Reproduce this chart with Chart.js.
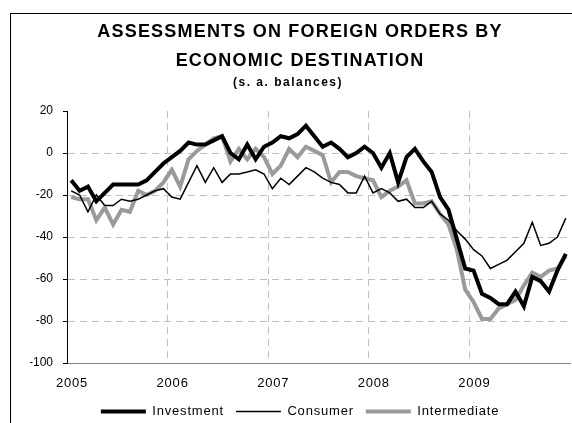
<!DOCTYPE html>
<html>
<head>
<meta charset="utf-8">
<script src="https://cdn.jsdelivr.net/npm/chart.js@4.4.1/dist/chart.umd.min.js"></script>
<style>
  html, body { margin: 0; padding: 0; background: #fff; overflow: hidden; }
  #frame { position: absolute; left: 10px; top: 13px; width: 640px; height: 480px; border: 1px solid #000; }
  #wrap { position: absolute; left: 0; top: 0; width: 600px; height: 423px; }
</style>
</head>
<body>
<div id="frame"></div>
<div id="wrap"><canvas id="chart" width="600" height="423"></canvas></div>
<script>
const FONT = "'Liberation Sans', Arial, sans-serif";

// monthly balances, Jan 2005 .. Dec 2009
const investment = [
  -13, -18, -16, -23, -19, -15, -15, -15, -15, -13, -9, -5,
  -2, 1, 5, 4, 4, 6, 8, 0, -3, 4, -3, 3,
  5, 8, 7, 9, 13, 8, 3, 5, 2, -2, 0, 3,
  0, -7, 0, -14, -2, 2, -4, -9, -21, -27, -41, -55,
  -56, -67, -69, -72, -72, -66, -73, -59, -61, -66, -56, -48
];
const consumer = [
  -18, -20, -28, -20, -25, -25, -22, -23, -22, -20, -18, -17,
  -21, -22, -14, -6, -14, -7, -14, -10, -10, -9, -8, -10,
  -17, -12, -15, -11, -7, -9, -12, -14, -15, -19, -19, -11,
  -19, -17, -19, -23, -22, -26, -26, -23, -29, -32, -37, -41,
  -46, -49, -55, -53, -51, -47, -43, -33, -44, -43, -40, -31
];
const intermediate = [
  -21, -22, -22, -32, -26, -34, -27, -28, -18, -20, -18, -14,
  -8, -16, -3, 1, 4, 7, 8, -4, 2, -3, 2, -2,
  -10, -6, 2, -2, 3, 1, -1, -14, -9, -9, -11, -12,
  -13, -21, -18, -16, -13, -24, -24, -23, -29, -34, -46, -65,
  -71, -79, -79, -74, -72, -70, -63, -57, -59, -56, -55, -49
];

const yearTicks = [0, 12, 24, 36, 48, 60];
const yearLabels = ['2005', '2006', '2007', '2008', '2009', ''];
const yTicks = [20, 0, -20, -40, -60, -80, -100];

const SUBTITLE = '(s. a. balances)';

// points sit in the middle of each month
function toPoints(arr) {
  return arr.map((v, i) => ({ x: i + 0.5, y: v }));
}

// the original Excel text is rendered a bit wider than the canvas default
const spacingPlugin = {
  id: 'spacing',
  beforeLayout(chart) { chart.ctx.letterSpacing = '0.8px'; },
  beforeDraw(chart) { chart.ctx.letterSpacing = '0.8px'; }
};

const ctx = document.getElementById('chart').getContext('2d');
const chart = new Chart(ctx, {
  type: 'line',
  plugins: [spacingPlugin],
  data: {
    datasets: [
      {
        label: 'Investment',
        data: toPoints(investment),
        borderColor: '#000000',
        backgroundColor: '#000000',
        borderWidth: 4,
        order: 0
      },
      {
        label: 'Consumer',
        data: toPoints(consumer),
        borderColor: '#000000',
        backgroundColor: '#000000',
        borderWidth: 1.5,
        order: 1
      },
      {
        label: 'Intermediate',
        data: toPoints(intermediate),
        borderColor: '#9a9a9a',
        backgroundColor: '#9a9a9a',
        borderWidth: 4,
        order: 2
      }
    ]
  },
  options: {
    responsive: false,
    animation: false,
    devicePixelRatio: 1,
    layout: { padding: { left: 30, right: 30, top: 0, bottom: -5 } },
    elements: {
      point: { radius: 0, hoverRadius: 0 },
      line: { tension: 0, borderJoinStyle: 'miter', fill: false }
    },
    scales: {
      x: {
        type: 'linear',
        min: 0,
        max: 60,
        afterBuildTicks: scale => { scale.ticks = yearTicks.map(v => ({ value: v })); },
        afterFit: scale => {
          const lh = scale.chart.legend ? scale.chart.legend.height : 48;
          scale.height = Math.max(0, 428 - lh - 363);
        },
        ticks: {
          autoSkip: false,
          maxRotation: 0,
          padding: 13,
          labelOffset: 5,
          color: '#000',
          font: { family: FONT, size: 13 },
          callback: (value) => yearLabels[yearTicks.indexOf(value)]
        },
        grid: {
          drawTicks: false,
          color: c => (c.tick && c.tick.value > 0 && c.tick.value < 60) ? '#c0c0c0' : 'rgba(0,0,0,0)'
        },
        border: { color: '#808080', width: 1, dash: [7, 5] }
      },
      y: {
        min: -100,
        max: 20,
        afterBuildTicks: scale => { scale.ticks = yTicks.map(v => ({ value: v })); },
        afterFit: scale => { scale.width = 37; },
        ticks: {
          padding: 10,
          color: '#000',
          font: { family: FONT, size: 12 },
          callback: v => String(v)
        },
        grid: {
          tickLength: 4,
          tickColor: '#000',
          color: c => (c.tick && c.tick.value > -100 && c.tick.value < 20) ? '#c0c0c0' : 'rgba(0,0,0,0)'
        },
        border: { color: '#000', width: 1, dash: [7, 5] }
      }
    },
    plugins: {
      title: {
        display: true,
        text: ['ASSESSMENTS ON FOREIGN ORDERS BY', 'ECONOMIC DESTINATION'],
        color: '#000',
        font: { family: FONT, size: 18, weight: 'bold', lineHeight: 1.6 },
        padding: { top: 18, bottom: 0 }
      },
      subtitle: {
        display: true,
        text: SUBTITLE,
        color: '#000',
        font: { family: FONT, size: 12, weight: 'bold', lineHeight: 1.2 },
        padding: { top: 0, bottom: 21 }
      },
      legend: {
        position: 'bottom',
        labels: {
          usePointStyle: true,
          pointStyle: 'line',
          pointStyleWidth: 45,
          boxHeight: 12,
          padding: 12,
          color: '#000',
          font: { family: FONT, size: 13 }
        }
      },
      tooltip: { enabled: false }
    }
  }
});

// letter spacing per box: wider for the titles, none for the value axis
function spaced(box, spacing, dx) {
  if (!box) return;
  const orig = box.draw.bind(box);
  box.draw = function (area) {
    const c = chart.ctx;
    c.save();
    c.letterSpacing = spacing;
    c.translate(dx, 0);
    orig(area);
    c.restore();
  };
}
spaced(chart.titleBlock, '1.2px', 0);
spaced(chart.boxes.find(b => b !== chart.titleBlock && b.options && b.options.text === SUBTITLE), '1.5px', -12);
spaced(chart.scales.y, '0px', 0);
// rebuild the draw layers so the wrapped axis is used
chart.update();
</script>
</body>
</html>
